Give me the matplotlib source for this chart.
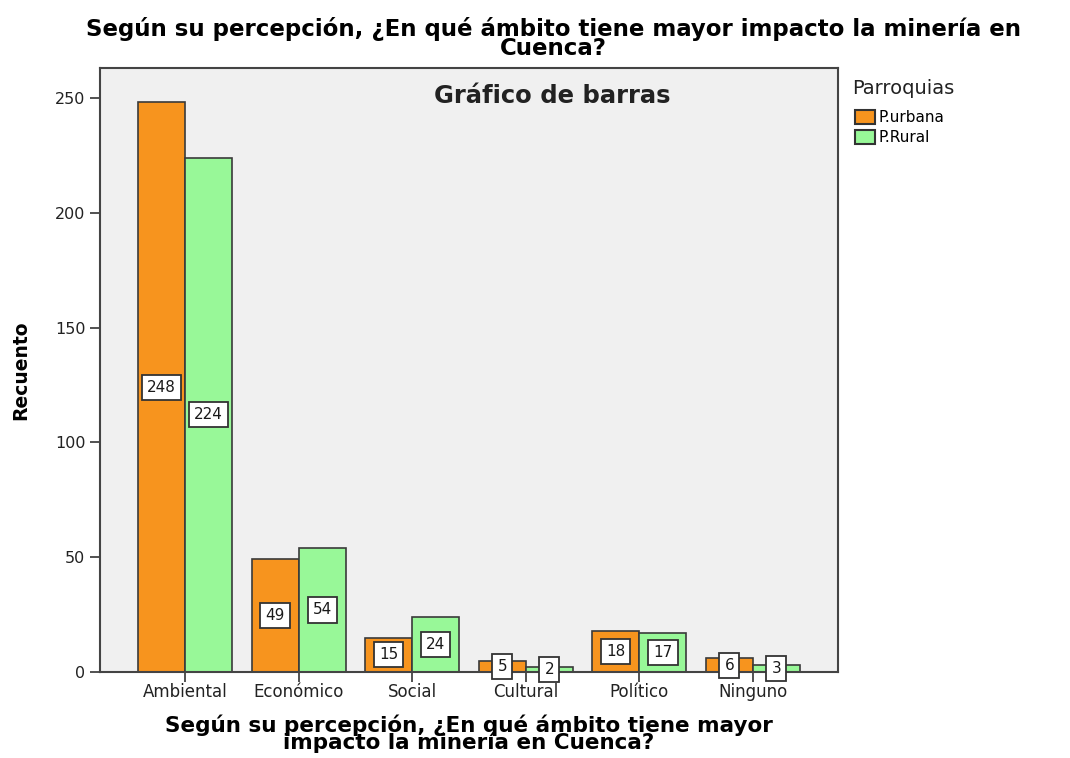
import numpy as np
import matplotlib
matplotlib.use("Agg")
import matplotlib.pyplot as plt

plt.rcParams['font.family'] = ['DejaVu Sans']

categorias = ["Ambiental", "Económico", "Social", "Cultural", "Político", "Ninguno"]
urbana = [248, 49, 15, 5, 18, 6]
rural = [224, 54, 24, 2, 17, 3]
series = ["P.urbana", "P.Rural"]
colores = ["#F7941E", "#98F898"]

W, H = 1070, 758
fig = plt.figure(figsize=(W / 100, H / 100), dpi=100)
ax = fig.add_axes([100 / W, 1 - 672 / H, 738 / W, 604 / H])
ax.set_facecolor("#F0F0F0")

x = np.arange(len(categorias))
w = 0.415
for i, (vals, nombre, col) in enumerate(zip([urbana, rural], series, colores)):
    pos = x + (i - 0.5) * w
    ax.bar(pos, vals, width=w, color=col, edgecolor="#3a3a3a", linewidth=1.2,
           label=nombre, zorder=2)
    for p, v in zip(pos, vals):
        ax.text(p, v / 2, str(v), ha="center", va="center", fontsize=11,
                color="#1a1a1a", zorder=4,
                bbox=dict(boxstyle="square,pad=0.33", fc="white", ec="#333333", lw=1.3))

ax.set_xlim(-0.75, 5.75)
ax.set_ylim(0, 263)
ax.set_xticks(x)
ax.set_xticklabels(categorias, fontsize=12, color="#222222")
ax.set_yticks([0, 50, 100, 150, 200, 250])
ax.tick_params(axis="y", labelsize=11.5, labelcolor="#222222", length=7, width=1.2, color="#333333")
ax.tick_params(axis="x", length=7, width=1.2, color="#333333", pad=1)
for s in ax.spines.values():
    s.set_color("#444444")
    s.set_linewidth(1.5)

ax.set_ylabel("Recuento", fontsize=13.5, fontweight="bold", labelpad=18)
ax.set_xlabel("Según su percepción, ¿En qué ámbito tiene mayor\nimpacto la minería en Cuenca?",
              fontsize=15.5, fontweight="bold", linespacing=0.72, labelpad=10)
ax.text(0.6125, 0.954, "Gráfico de barras", transform=ax.transAxes, ha="center", va="center",
        fontsize=17.5, fontweight="bold", color="#222222")

fig.suptitle("Según su percepción, ¿En qué ámbito tiene mayor impacto la minería en\nCuenca?",
             x=0.517, y=0.977, fontsize=16.5, fontweight="bold", linespacing=0.74)

fig.text(852 / W, 1 - 88 / H, "Parroquias", ha="left", va="center", fontsize=14, color="#222222")
leg = ax.legend(loc="upper left", bbox_to_anchor=(1.015, 0.94),
                frameon=False, fontsize=11, handlelength=1.3,
                handleheight=1.0, handletextpad=0.2, labelspacing=0.3,
                borderaxespad=0.0)
for h in leg.legend_handles:
    h.set_edgecolor("#333333")
    h.set_linewidth(1.5)

fig.savefig("out.png", dpi=100)
